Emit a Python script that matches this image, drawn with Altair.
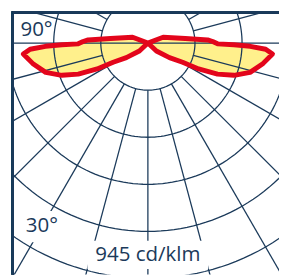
import numpy as np
import pandas as pd
import altair as alt

# ---- data ----
# luminous intensity (cd/klm) against angle from nadir (deg); symmetric C0/C180
gamma = [40, 47, 56, 61, 63, 66, 69.5, 74, 80, 85, 87, 88.2, 88.9, 89.4, 91.4, 93, 97, 111, 125]
intensity = [0, 52, 116, 177, 254, 340, 410, 474, 522, 558, 526, 457, 384, 311, 289, 267, 168, 73, 0]
ring_values = [210, 420, 630, 840, 1050]
spoke_angles = list(range(0, 360, 15))
label_texts = ["945 cd/klm", "30°", "90°"]
label_r = [945, 945, 500]
label_angle = [0, -30, -96.7]
box_w = [124, 34, 0]
box_h = [29, 32, 0]

NAVY = "#1b3a5a"
RED = "#e3051b"
YELLOW = "#fff08c"

# ---- layout ----
K = 210 / 48.3          # cd/klm per pixel
W, H = 273, 270
CX, CY = 138.5, 32.5    # centre of the diagram inside the plot area (px)
xdom = [-CX * K, (W - CX) * K]
ydom = [-(H - CY) * K, CY * K]


def pol(r, g):
    g = np.radians(np.asarray(g, dtype=float))
    r = np.asarray(r, dtype=float)
    return r * np.sin(g), -r * np.cos(g)


X = alt.X("x:Q", scale=alt.Scale(domain=xdom, nice=False, zero=False), axis=None)
Y = alt.Y("y:Q", scale=alt.Scale(domain=ydom, nice=False, zero=False), axis=None)

# rings
rows = []
for rv in ring_values:
    for t in range(0, 361, 2):
        x, y = pol(rv, t)
        rows.append({"ring": rv, "t": t, "x": float(x), "y": float(y)})
rings = pd.DataFrame(rows)

# spokes
rows = []
for a in spoke_angles:
    r0 = 0 if a in (90, 270) else ring_values[0]
    for e, rr in enumerate([r0, 1400]):
        x, y = pol(rr, a)
        rows.append({"spoke": a, "e": e, "x": float(x), "y": float(y)})
spokes = pd.DataFrame(rows)

# curve (left lobe then right lobe)
g_all = [-g for g in gamma] + list(reversed(gamma))
i_all = list(intensity) + list(reversed(intensity))
cx_, cy_ = pol(i_all, g_all)
curve = pd.DataFrame({"i": range(len(g_all)), "x": cx_, "y": cy_})

# labels
lx, ly = pol(label_r, label_angle)
labels = pd.DataFrame({"text": label_texts, "x": lx, "y": ly})
boxes = pd.DataFrame({
    "x": lx - np.array(box_w) / 2 * K, "x2": lx + np.array(box_w) / 2 * K,
    "y": ly - np.array(box_h) / 2 * K, "y2": ly + np.array(box_h) / 2 * K,
}).iloc[:2]

fill = alt.Chart(curve).mark_line(fill=YELLOW, strokeOpacity=0, clip=True).encode(
    x=X, y=Y, order="i:Q")
ring_layer = alt.Chart(rings).mark_line(stroke=NAVY, strokeWidth=1.3, clip=True).encode(
    x=X, y=Y, detail="ring:N", order="t:Q")
spoke_layer = alt.Chart(spokes).mark_line(stroke=NAVY, strokeWidth=1.3, clip=True).encode(
    x=X, y=Y, detail="spoke:N", order="e:Q")
box_layer = alt.Chart(boxes).mark_rect(fill="white", clip=True).encode(
    x=X, x2="x2:Q", y=Y, y2="y2:Q")
text_layer = alt.Chart(labels).mark_text(
    font="Open Sans", fontSize=21, color=NAVY, align="center", baseline="middle"
).encode(x=X, y=Y, text="text:N")
curve_layer = alt.Chart(curve).mark_line(
    stroke=RED, strokeWidth=5, strokeJoin="round", strokeCap="round", clip=True
).encode(x=X, y=Y, order="i:Q")
left_rule = alt.Chart(curve).mark_rule(stroke=NAVY, strokeWidth=2).encode(
    x=alt.value(0), y=alt.value(0), y2=alt.value(H))
top_rule = alt.Chart(curve).mark_rule(stroke=NAVY, strokeWidth=2).encode(
    x=alt.value(0), x2=alt.value(W), y=alt.value(1))

chart = alt.layer(
    fill, ring_layer, spoke_layer, box_layer, text_layer, curve_layer, left_rule, top_rule
).properties(
    width=W, height=H,
    autosize=alt.AutoSizeParams(type="none"),
    padding={"left": 5, "top": 0, "right": 0, "bottom": 0},
).configure_view(strokeWidth=0)

chart.save("out.html", embed_options={"renderer": "svg", "actions": False})
